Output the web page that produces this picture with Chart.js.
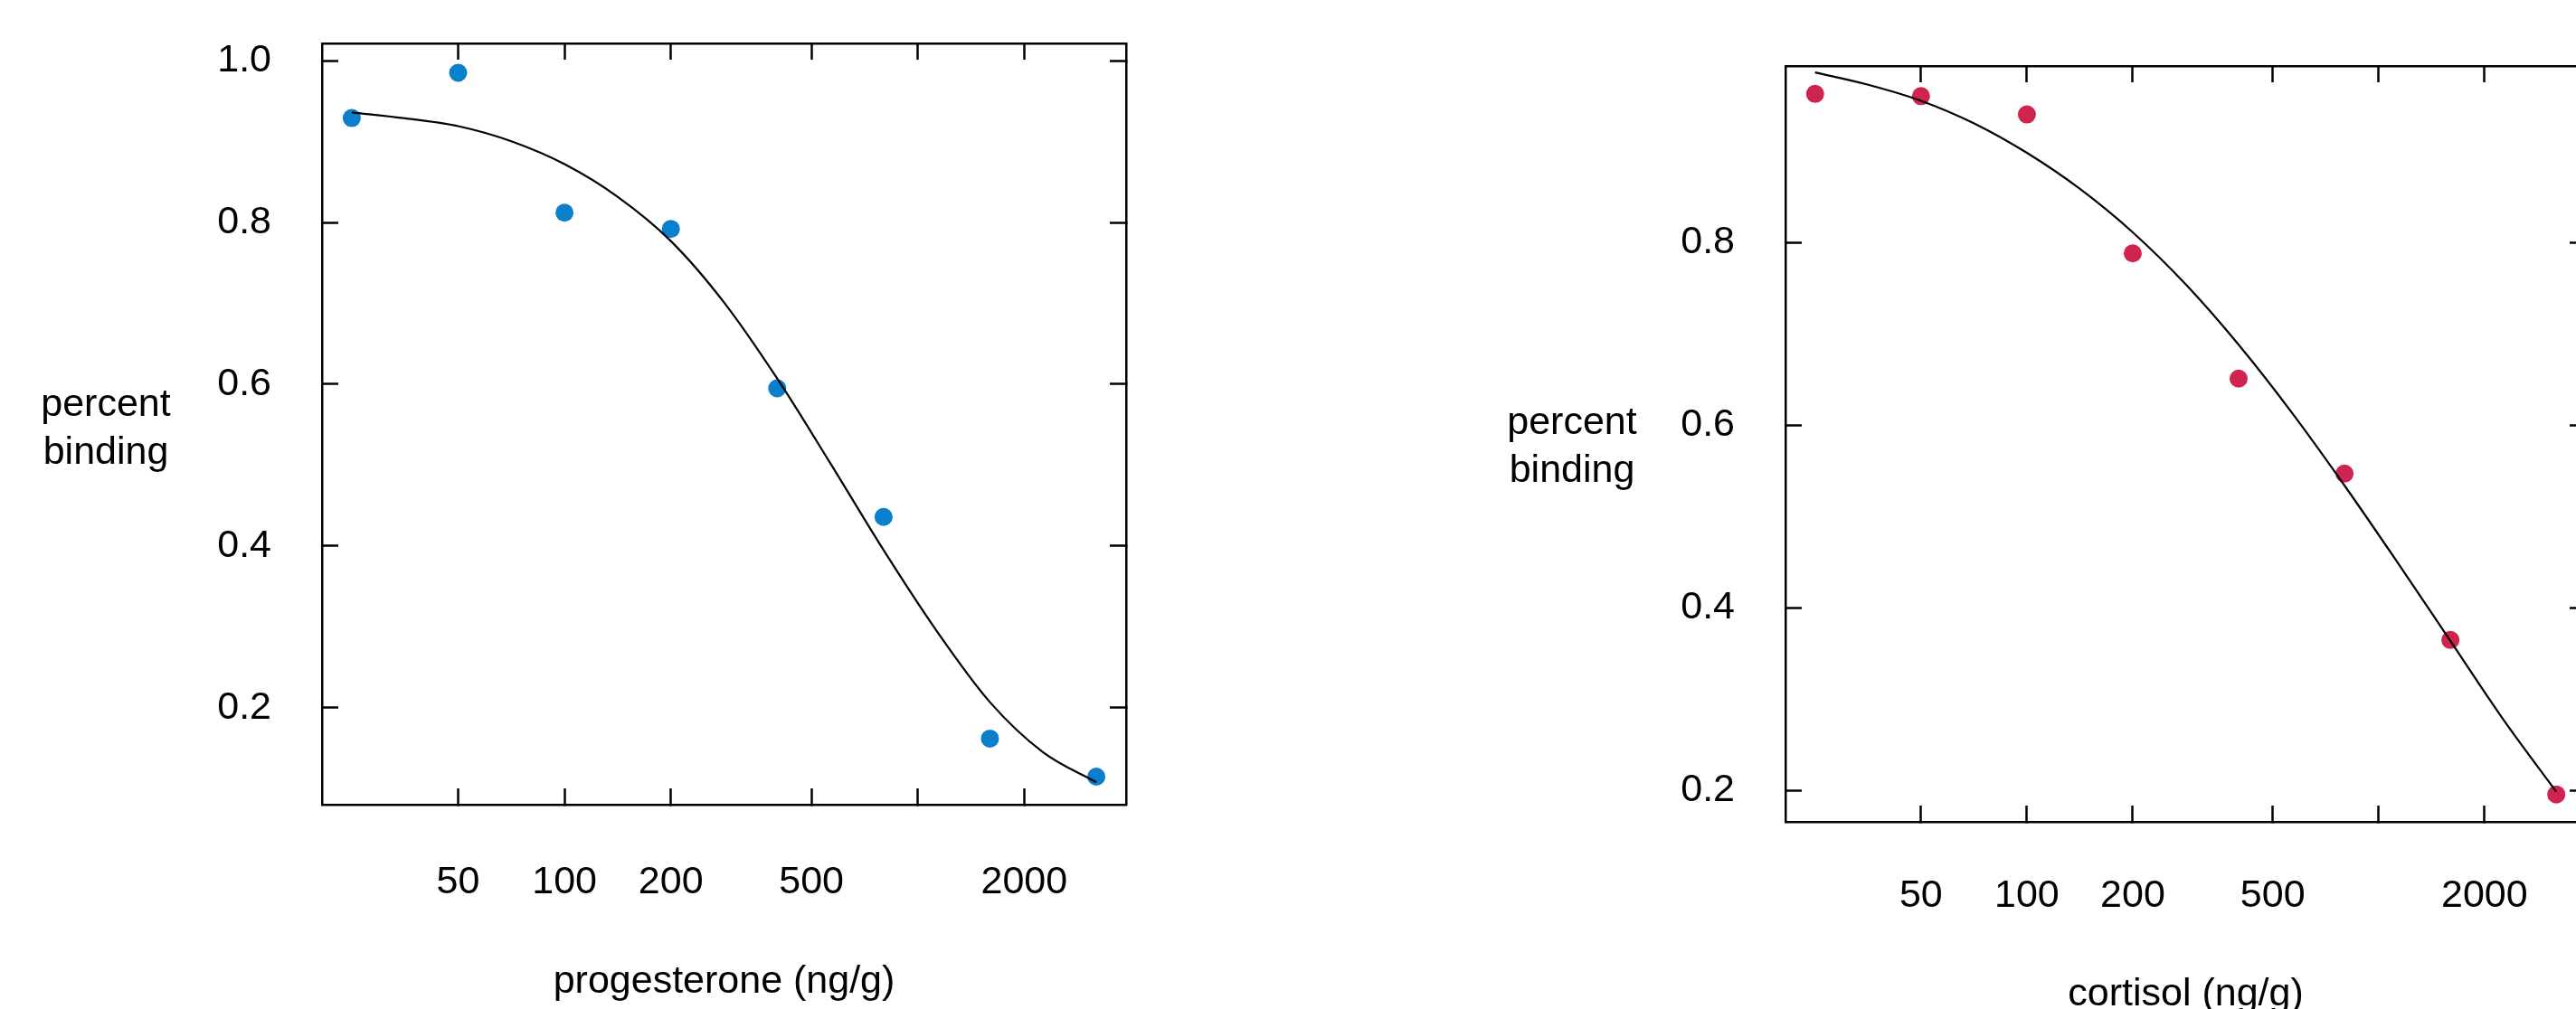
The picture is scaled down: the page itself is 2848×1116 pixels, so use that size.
<!DOCTYPE html>
<html>
<head>
<meta charset="utf-8">
<script src="https://cdn.jsdelivr.net/npm/chart.js@4.4.1/dist/chart.umd.min.js"></script>
<style>
  html, body { margin: 0; padding: 0; background: #fff; overflow: hidden; width: 2848px; height: 1116px; }
  canvas { position: absolute; top: 0; }
  #progChart { left: 0; }
  #cortChart { left: 1450px; }
</style>
</head>
<body>
<canvas id="progChart" width="1450" height="1140" style="width:1450px;height:1140px"></canvas>
<canvas id="cortChart" width="1450" height="1140" style="width:1450px;height:1140px"></canvas>
<script>
// =================== data ===================

// dose levels (ng/g) of the standards
const doses = [25, 50, 100, 200, 400, 800, 1600, 3200];
const progesteroneBinding = [0.929, 0.985, 0.812, 0.792, 0.595, 0.436, 0.162, 0.115];
const cortisolBinding = [0.9625, 0.960, 0.940, 0.788, 0.651, 0.547, 0.365, 0.196];

// fitted curves
const fitDoses = [25, 35, 50, 71, 100, 141, 200, 283, 400, 566, 800, 1131, 1600, 2263, 3200];
const progesteroneFit = [0.936, 0.929, 0.919, 0.900, 0.872, 0.832, 0.777, 0.701, 0.607, 0.502, 0.395, 0.295, 0.207, 0.145, 0.108];
const cortisolFit = [0.986, 0.973, 0.955, 0.930, 0.898, 0.859, 0.811, 0.754, 0.688, 0.614, 0.534, 0.450, 0.364, 0.278, 0.199];

// axes
const xTicks = [50, 100, 200, 500, 1000, 2000];
const xTickLabels = ['50', '100', '200', '500', '', '2000'];
const xRange = [20.59, 3886];
const progYTicks = [0.2, 0.4, 0.6, 0.8, 1.0];
const cortYTicks = [0.2, 0.4, 0.6, 0.8];
const progYRange = [0.0803, 1.0213];
const cortYRange = [0.166, 0.993];

const FONT = "'Liberation Sans', Arial, Helvetica, sans-serif";
Chart.defaults.font.family = FONT;
Chart.defaults.font.size = 43;
Chart.defaults.color = '#000';

// horizontal two-line y axis title (Chart.js would rotate it)
const yTitlePlugin = {
  id: 'yTitle',
  afterDraw(chart, args, opts) {
    const ctx = chart.ctx;
    ctx.save();
    ctx.font = '43px ' + FONT;
    ctx.fillStyle = '#000';
    ctx.textAlign = 'center';
    ctx.textBaseline = 'alphabetic';
    opts.lines.forEach((t, i) => ctx.fillText(t, opts.x, opts.baselines[i]));
    ctx.restore();
  }
};

function toPoints(xs, ys) {
  return xs.map((x, i) => ({ x: x, y: ys[i] }));
}

// box side with inward ticks
function sideGrid() {
  return {
    display: true,
    drawOnChartArea: false,
    drawTicks: true,
    tickLength: -18,
    tickWidth: 2.5,
    tickColor: '#000'
  };
}

function makeChart(id, cfg) {
  const ctx = document.getElementById(id);
  const border = { display: true, color: '#000', width: 2.5 };

  return new Chart(ctx, {
    type: 'scatter',
    data: {
      datasets: [
        {
          data: toPoints(fitDoses, cfg.fit),
          showLine: true,
          borderColor: '#000',
          borderWidth: 2.2,
          pointRadius: 0,
          cubicInterpolationMode: 'monotone',
          order: 0
        },
        {
          data: toPoints(doses, cfg.values),
          showLine: false,
          pointRadius: 10,
          pointBorderWidth: 0,
          pointBackgroundColor: cfg.color,
          backgroundColor: cfg.color,
          order: 1
        }
      ]
    },
    options: {
      responsive: false,
      animation: false,
      layout: { padding: cfg.padding },
      plugins: {
        legend: { display: false },
        tooltip: { enabled: false },
        yTitle: { lines: ['percent', 'binding'], x: cfg.titleX, baselines: cfg.titleBaselines }
      },
      scales: {
        x: {
          type: 'logarithmic',
          position: 'bottom',
          min: xRange[0],
          max: xRange[1],
          border: border,
          grid: sideGrid(),
          afterBuildTicks: s => { s.ticks = xTicks.map(v => ({ value: v })); },
          afterFit: s => { s.height = cfg.xHeight; s.paddingLeft = 0; s.paddingRight = 0; },
          ticks: {
            autoSkip: false,
            maxRotation: 0,
            padding: cfg.xTickPad,
            callback: (v) => xTickLabels[xTicks.indexOf(v)]
          },
          title: {
            display: true,
            text: cfg.xTitle,
            padding: 0,
            font: { size: 43 }
          }
        },
        xTop: {
          type: 'logarithmic',
          position: 'top',
          min: xRange[0],
          max: xRange[1],
          border: border,
          grid: sideGrid(),
          afterBuildTicks: s => { s.ticks = xTicks.map(v => ({ value: v })); },
          afterFit: s => { s.height = cfg.xTopHeight; s.paddingLeft = 0; s.paddingRight = 0; },
          ticks: { autoSkip: false, maxRotation: 0, callback: () => '' }
        },
        y: {
          type: 'linear',
          position: 'left',
          min: cfg.yRange[0],
          max: cfg.yRange[1],
          border: border,
          grid: sideGrid(),
          afterBuildTicks: s => { s.ticks = cfg.yTicks.map(v => ({ value: v })); },
          afterFit: s => { s.width = cfg.yWidth; s.paddingTop = 0; s.paddingBottom = 0; },
          ticks: {
            autoSkip: false,
            padding: 74,
            callback: (v) => Number(v).toFixed(1)
          }
        },
        yRight: {
          type: 'linear',
          position: 'right',
          min: cfg.yRange[0],
          max: cfg.yRange[1],
          border: border,
          grid: sideGrid(),
          afterBuildTicks: s => { s.ticks = cfg.yTicks.map(v => ({ value: v })); },
          afterFit: s => { s.width = 20; s.paddingTop = 0; s.paddingBottom = 0; },
          ticks: { autoSkip: false, callback: () => '' }
        }
      }
    },
    plugins: [yTitlePlugin]
  });
}

// left panel: progesterone
makeChart('progChart', {
  values: progesteroneBinding,
  fit: progesteroneFit,
  color: '#0a7fcc',
  yTicks: progYTicks,
  yRange: progYRange,
  xTitle: 'progesterone (ng/g)',
  padding: { left: 0, top: 0, right: 185, bottom: 28 },
  yWidth: 356,
  xTopHeight: 48,
  xHeight: 222,
  xTickPad: 78,
  titleX: 117,
  titleBaselines: [460, 513]
});

// right panel: cortisol (runs off the right edge)
makeChart('cortChart', {
  values: cortisolBinding,
  fit: cortisolFit,
  color: '#cf2350',
  yTicks: cortYTicks,
  yRange: cortYRange,
  xTitle: 'cortisol (ng/g)',
  padding: { left: 0, top: 0, right: 21, bottom: 14 },
  yWidth: 524,
  xTopHeight: 73,
  xHeight: 217,
  xTickPad: 74,
  titleX: 288,
  titleBaselines: [480, 533]
});
</script>
</body>
</html>
